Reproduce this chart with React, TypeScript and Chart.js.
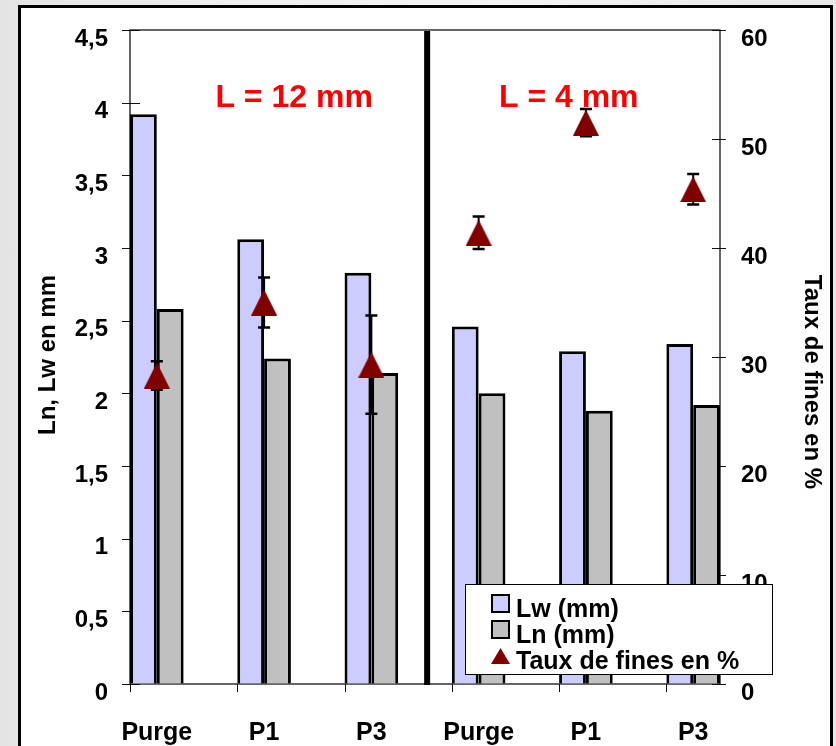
import React, { useEffect, useRef } from 'react';
import { Chart, registerables } from 'chart.js';

Chart.register(...registerables);

const CATEGORIES = ['Purge', 'P1', 'P3', 'Purge', 'P1', 'P3'];
const LW_VALUES = [3.92, 3.06, 2.83, 2.46, 2.29, 2.34];
const LN_VALUES = [2.58, 2.24, 2.14, 2.0, 1.88, 1.92];
const FINES_VALUES = [28.3, 35.0, 29.3, 41.4, 51.5, 45.4];
const FINES_ERRORS = [1.3, 2.3, 4.5, 1.5, 1.25, 1.4];
const LEFT_TICKS = { min: 0, max: 4.5, step: 0.5 };
const RIGHT_TICKS = { min: 0, max: 60, step: 10 };
const GROUP_LABELS = ['L = 12 mm', 'L = 4 mm'];
const GROUP_LABEL_X = [1.28, 3.84];
const GROUP_LABEL_Y = 3.97;
const SEPARATOR_X = 2.52;
const SERIES_NAMES = ['Taux de fines en %', 'Lw (mm)', 'Ln (mm)'];
const LEFT_TITLE = 'Ln, Lw en mm';
const RIGHT_TITLE = 'Taux de fines en %';

const FONT = '"Liberation Sans", Arial, Helvetica, sans-serif';
const LW_COLOR = '#CCCCFF';
const LN_COLOR = '#C0C0C0';
const TRI_COLOR = '#800000';

function makeTriangle(w: number, h: number) {
  const c = document.createElement('canvas');
  c.width = w;
  c.height = h;
  const g = c.getContext('2d')!;
  g.fillStyle = TRI_COLOR;
  g.beginPath();
  g.moveTo(w / 2, 0);
  g.lineTo(w, h);
  g.lineTo(0, h);
  g.closePath();
  g.fill();
  return c;
}

const decorPlugin = {
  id: 'decor',
  beforeDatasetsDraw(chart: any) {
    const { ctx, chartArea: a, scales } = chart;
    ctx.save();
    ctx.strokeStyle = '#000';
    ctx.lineWidth = 1.2;
    ctx.strokeRect(a.left, a.top, a.right - a.left, a.bottom - a.top);
    ctx.lineWidth = 1;
    ctx.strokeStyle = '#111';
    ctx.beginPath();
    scales.y.ticks.forEach((t: any) => {
      const py = Math.round(scales.y.getPixelForValue(t.value)) + 0.5;
      ctx.moveTo(a.left - 8, py);
      ctx.lineTo(a.left + 10, py);
    });
    scales.y1.ticks.forEach((t: any) => {
      const py = Math.round(scales.y1.getPixelForValue(t.value)) + 0.5;
      ctx.moveTo(a.right - 8, py);
      ctx.lineTo(a.right + 6, py);
    });
    CATEGORIES.forEach((_, i) => {
      const px = Math.round(scales.x.getPixelForValue(i - 0.25)) + 0.5;
      ctx.moveTo(px, a.bottom);
      ctx.lineTo(px, a.bottom + 8);
    });
    ctx.stroke();
    ctx.restore();
  },
  beforeDatasetDraw(chart: any, args: any) {
    if (args.index !== 0) return;
    const { ctx, scales } = chart;
    ctx.save();
    ctx.strokeStyle = '#000';
    FINES_VALUES.forEach((v, i) => {
      const px = scales.x.getPixelForValue(i);
      const top = scales.y1.getPixelForValue(v + FINES_ERRORS[i]);
      const bot = scales.y1.getPixelForValue(v - FINES_ERRORS[i]);
      ctx.lineWidth = 2;
      ctx.beginPath();
      ctx.moveTo(px, top);
      ctx.lineTo(px, bot);
      ctx.stroke();
      ctx.lineWidth = 2.5;
      ctx.beginPath();
      ctx.moveTo(px - 6, top);
      ctx.lineTo(px + 6, top);
      ctx.moveTo(px - 6, bot);
      ctx.lineTo(px + 6, bot);
      ctx.stroke();
    });
    ctx.restore();
  },
  afterDatasetsDraw(chart: any) {
    const { ctx, chartArea: a, scales } = chart;
    ctx.save();
    const sx = scales.x.getPixelForValue(SEPARATOR_X);
    ctx.fillStyle = '#000';
    ctx.fillRect(sx - 3, a.top + 1, 6, a.bottom - a.top);
    ctx.fillStyle = '#FF0000';
    ctx.font = `bold 32px ${FONT}`;
    ctx.textAlign = 'center';
    ctx.textBaseline = 'alphabetic';
    GROUP_LABELS.forEach((t, i) => {
      ctx.fillText(t, scales.x.getPixelForValue(GROUP_LABEL_X[i]), scales.y.getPixelForValue(GROUP_LABEL_Y));
    });
    ctx.restore();
  },
  afterDraw(chart: any) {
    const { ctx, chartArea: a } = chart;
    ctx.save();
    ctx.fillStyle = '#000';
    ctx.font = `bold 24px ${FONT}`;
    ctx.textAlign = 'center';
    ctx.textBaseline = 'alphabetic';
    // left title
    ctx.save();
    ctx.translate(55, (a.top + a.bottom) / 2 - 2);
    ctx.rotate(-Math.PI / 2);
    ctx.fillText(LEFT_TITLE, 0, 0);
    ctx.restore();
    // right title
    ctx.save();
    ctx.translate(805, (a.top + a.bottom) / 2 + 25);
    ctx.rotate(Math.PI / 2);
    ctx.fillText(RIGHT_TITLE, 0, 0);
    ctx.restore();

    // legend
    const lx = 465, ly = 584, lw = 307, lh = 90;
    ctx.fillStyle = '#fff';
    ctx.fillRect(lx, ly, lw, lh);
    ctx.strokeStyle = '#000';
    ctx.lineWidth = 1;
    ctx.strokeRect(lx + 0.5, ly + 0.5, lw, lh);
    const ds = chart.data.datasets;
    const rows = [ds[1], ds[2], ds[0]];
    ctx.textAlign = 'left';
    ctx.font = `bold 25px ${FONT}`;
    rows.forEach((d: any, i: number) => {
      const base = 617 + i * 26;
      if (i < 2) {
        ctx.fillStyle = d.backgroundColor;
        ctx.fillRect(492, base - 22, 17, 17);
        ctx.lineWidth = 2;
        ctx.strokeStyle = '#000';
        ctx.strokeRect(492, base - 22, 17, 17);
      } else {
        ctx.fillStyle = TRI_COLOR;
        ctx.beginPath();
        ctx.moveTo(500.5, base - 21);
        ctx.lineTo(510, base - 5);
        ctx.lineTo(491, base - 5);
        ctx.closePath();
        ctx.fill();
      }
      ctx.fillStyle = '#000';
      ctx.fillText(d.label, 516, base);
    });
    ctx.restore();
  },
};

export default function App() {
  const ref = useRef<HTMLCanvasElement>(null);
  useEffect(() => {
    if (!ref.current) return;
    const tri = makeTriangle(26, 26);
    const chart = new Chart(ref.current, {
      type: 'bar',
      data: {
        datasets: [
          {
            type: 'scatter',
            label: SERIES_NAMES[0],
            data: FINES_VALUES.map((v, i) => ({ x: i, y: v })),
            yAxisID: 'y1',
            xAxisID: 'x',
            pointStyle: tri,
            pointRadius: 13,
            backgroundColor: TRI_COLOR,
            borderColor: TRI_COLOR,
            order: 0,
          } as any,
          {
            type: 'bar',
            label: SERIES_NAMES[1],
            data: LW_VALUES.map((v, i) => ({ x: i, y: v })),
            yAxisID: 'y',
            backgroundColor: LW_COLOR,
            borderColor: '#000',
            borderWidth: 3,
            categoryPercentage: 0.5,
            barPercentage: 1,
            order: 1,
          },
          {
            type: 'bar',
            label: SERIES_NAMES[2],
            data: LN_VALUES.map((v, i) => ({ x: i, y: v })),
            yAxisID: 'y',
            backgroundColor: LN_COLOR,
            borderColor: '#000',
            borderWidth: 3,
            categoryPercentage: 0.5,
            barPercentage: 1,
            order: 1,
          },
        ],
      },
      options: {
        responsive: false,
        animation: false,
        layout: { padding: { left: 0, right: 0, top: 30, bottom: 0 } },
        plugins: { legend: { display: false }, tooltip: { enabled: false } },
        scales: {
          x: {
            type: 'linear',
            min: -0.25,
            max: 5.25,
            offset: false,
            position: 'bottom',
            grid: { offset: false, drawOnChartArea: false, drawTicks: true, tickLength: 8, color: 'rgba(0,0,0,0)' },
            border: { display: false },
            afterBuildTicks: (scale: any) => {
              scale.ticks = CATEGORIES.map((_, i) => ({ value: i }));
            },
            afterFit: (scale: any) => {
              scale.height = 62;
            },
            ticks: {
              autoSkip: false,
              maxRotation: 0,
              minRotation: 0,
              padding: 26,
              color: '#000',
              font: { family: FONT, size: 25, weight: 'bold' },
              callback: (_v: any, i: number) => CATEGORIES[i],
            },
          },
          y: {
            type: 'linear',
            position: 'left',
            min: LEFT_TICKS.min,
            max: LEFT_TICKS.max,
            grid: { drawOnChartArea: false, drawTicks: true, tickLength: 8, color: 'rgba(0,0,0,0)' },
            border: { display: false },
            afterFit: (scale: any) => {
              scale.width = 130;
            },
            ticks: {
              stepSize: LEFT_TICKS.step,
              padding: 14,
              labelOffset: 9,
              color: '#000',
              font: { family: FONT, size: 24, weight: 'bold' },
              callback: (v: any) => String(v).replace('.', ','),
            },
          },
          y1: {
            type: 'linear',
            position: 'right',
            min: RIGHT_TICKS.min,
            max: RIGHT_TICKS.max,
            grid: { drawOnChartArea: false, drawTicks: true, tickLength: 6, color: 'rgba(0,0,0,0)' },
            border: { display: false },
            afterFit: (scale: any) => {
              scale.width = 116;
            },
            ticks: {
              stepSize: RIGHT_TICKS.step,
              padding: 15,
              labelOffset: 9,
              color: '#000',
              font: { family: FONT, size: 24, weight: 'bold' },
              callback: (v: any) => String(v),
            },
          },
        },
      } as any,
      plugins: [decorPlugin],
    });
    return () => chart.destroy();
  }, []);

  return (
    <div
      style={{
        position: 'absolute',
        left: 0,
        top: 0,
        width: 836,
        height: 746,
        overflow: 'hidden',
        background: 'linear-gradient(90deg, #e4e4e4 0%, #f0f0f0 30%, #f4f4f4 60%, #e8e8e8 100%)',
      }}
    >
      <div
        style={{
          position: 'absolute',
          left: 18,
          top: 5,
          width: 815,
          height: 760,
          boxSizing: 'border-box',
          border: '3px solid #000',
          background: '#fff',
        }}
      />
      <canvas ref={ref} width={836} height={746} style={{ position: 'absolute', left: 0, top: 0 }} />
    </div>
  );
}
